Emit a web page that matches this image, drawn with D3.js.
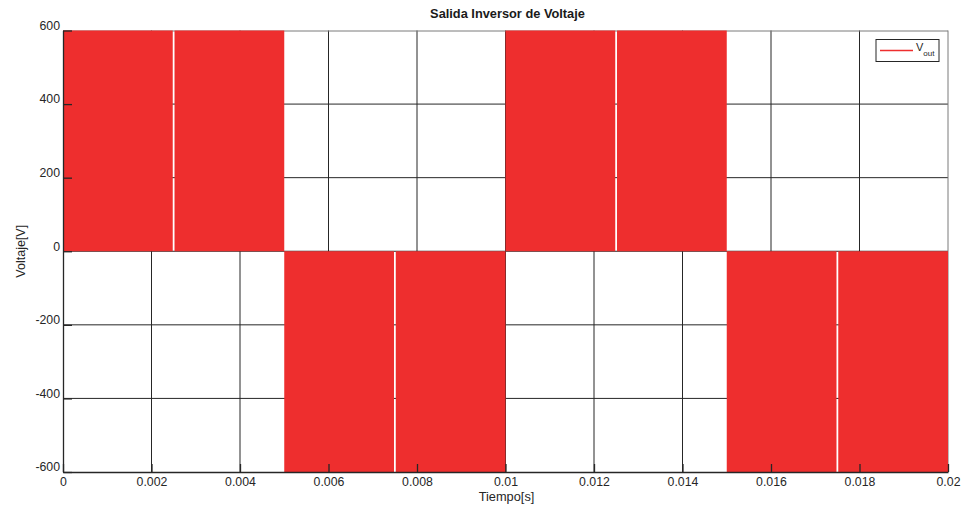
<!DOCTYPE html>
<html><head><meta charset="utf-8">
<script src="https://cdn.jsdelivr.net/npm/d3@7"></script>
<style>body{margin:0;background:#fff;}svg{display:block;font-family:"Liberation Sans",Arial,sans-serif;}</style>
</head><body><svg id="c" width="966" height="508"></svg>
<script>
const title = "Salida Inversor de Voltaje";
const xLabel = "Tiempo[s]";
const yLabel = "Voltaje[V]";
const xTicks = [0, 0.002, 0.004, 0.006, 0.008, 0.01, 0.012, 0.014, 0.016, 0.018, 0.02];
const xTickLabels = ["0","0.002","0.004","0.006","0.008","0.01","0.012","0.014","0.016","0.018","0.02"];
const yTicks = [-600, -400, -200, 0, 200, 400, 600];
const yTickLabels = ["-600","-400","-200","0","200","400","600"];
// switching blocks of V_out (high-frequency PWM fills each block)
const segStart = [0, 0.00252, 0.005, 0.00752, 0.01, 0.01252, 0.015, 0.01752];
const segEnd   = [0.00248, 0.005, 0.00748, 0.01, 0.01248, 0.015, 0.01748, 0.02];
const segLevel = [600, 600, -600, -600, 600, 600, -600, -600];
const seriesName = "V";
const seriesSub = "out";

const svg = d3.select("#c");
const L = 63, R = 948, T = 30.5, B = 472;
const x = d3.scaleLinear().domain([0, 0.02]).range([L, R]);
const y = d3.scaleLinear().domain([-600, 600]).range([B, T]);
const red = "#ee2e2e";
const font = '"Liberation Sans",Arial,sans-serif';

// grid
const g = svg.append("g");
g.selectAll("line.gx").data(xTicks.slice(1, -1)).join("line")
  .attr("x1", d => x(d)).attr("x2", d => x(d)).attr("y1", T).attr("y2", B)
  .attr("stroke", "#262626").attr("stroke-width", 1);
g.selectAll("line.gy").data(yTicks.slice(1, -1)).join("line")
  .attr("y1", d => y(d)).attr("y2", d => y(d)).attr("x1", L).attr("x2", R)
  .attr("stroke", "#262626").attr("stroke-width", 1);

// frame top/right gray
svg.append("line").attr("x1", L).attr("x2", R).attr("y1", T + 0.5).attr("y2", T + 0.5).attr("stroke", "#7a7a7a");
svg.append("line").attr("x1", R).attr("x2", R).attr("y1", T).attr("y2", B).attr("stroke", "#7a7a7a");

// data blocks
const segs = segStart.map((s, i) => ({s, e: segEnd[i], v: segLevel[i]}));
svg.append("g").selectAll("rect").data(segs).join("rect")
  .attr("x", d => x(d.s)).attr("width", d => x(d.e) - x(d.s))
  .attr("y", d => Math.min(y(d.v), y(0))).attr("height", d => Math.abs(y(d.v) - y(0)))
  .attr("fill", red);

// axes (left & bottom dark)
const xa = svg.append("g").attr("transform", `translate(0,${B})`)
  .call(d3.axisBottom(x).tickValues(xTicks).tickFormat((d, i) => xTickLabels[i]).tickSizeInner(-8).tickSizeOuter(0).tickPadding(12));
const ya = svg.append("g").attr("transform", `translate(${L},0)`)
  .call(d3.axisLeft(y).tickValues(yTicks).tickFormat((d, i) => yTickLabels[i]).tickSizeInner(-9).tickSizeOuter(0).tickPadding(12));
[xa, ya].forEach(a => {
  a.select(".domain").attr("stroke", "#262626").attr("stroke-width", 1.3);
  a.selectAll(".tick line").attr("stroke", "#262626").attr("stroke-width", 1.3);
  a.selectAll("text").attr("fill", "#262626").attr("font-size", "12.3px").attr("font-family", font);
});
ya.selectAll("text").attr("dx", "9px").attr("dy", "-0.1em");
xa.selectAll("text").attr("dy", "0.15em");

// title & labels
svg.append("text").attr("x", (L + R) / 2 + 2).attr("y", 18).attr("text-anchor", "middle")
  .attr("font-size", "12.8px").attr("font-weight", "bold").attr("fill", "#1a1a1a").text(title);
svg.append("text").attr("x", (L + R) / 2 + 1).attr("y", 501).attr("text-anchor", "middle")
  .attr("font-size", "12.8px").attr("fill", "#262626").text(xLabel);
svg.append("text").attr("transform", `translate(25,${(T + B) / 2}) rotate(-90)`).attr("text-anchor", "middle")
  .attr("font-size", "12.5px").attr("fill", "#262626").text(yLabel);

// legend
const lg = svg.append("g");
lg.append("rect").attr("x", 876).attr("y", 39.5).attr("width", 63).attr("height", 22)
  .attr("fill", "#fff").attr("stroke", "#262626").attr("stroke-width", 1);
lg.append("line").attr("x1", 880).attr("x2", 913).attr("y1", 50.5).attr("y2", 50.5).attr("stroke", red).attr("stroke-width", 1.5);
const lt = lg.append("text").attr("x", 916).attr("y", 51).attr("font-size", "11px").attr("fill", "#262626");
lt.append("tspan").text(seriesName);
lt.append("tspan").attr("dy", 5).attr("font-size", "8px").text(seriesSub);
</script></body></html>
